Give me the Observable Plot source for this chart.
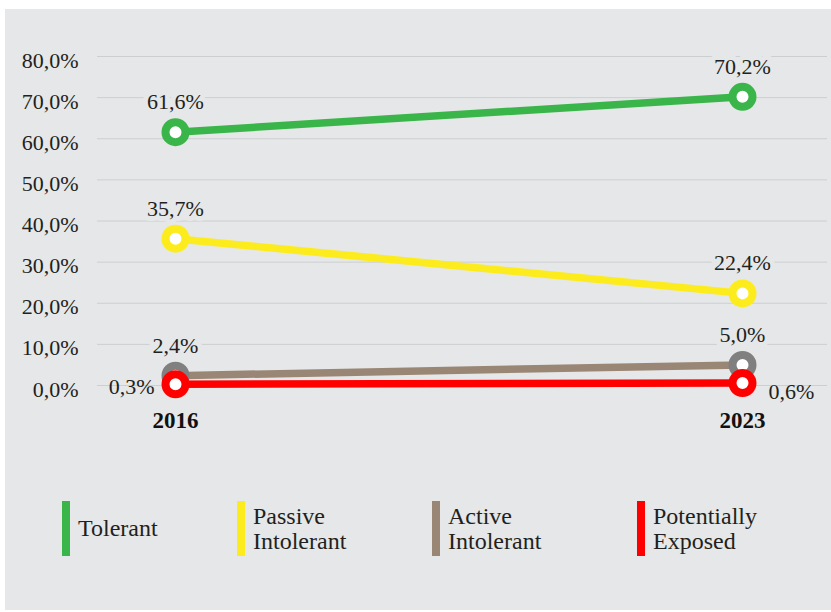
<!DOCTYPE html>
<html>
<head>
<meta charset="utf-8">
<script src="https://cdn.jsdelivr.net/npm/d3@7"></script>
<script src="https://cdn.jsdelivr.net/npm/@observablehq/plot@0.6"></script>
<style>
  html, body { margin: 0; padding: 0; background: #ffffff; }
  #panel { position: absolute; left: 5px; top: 9px; width: 826px; height: 601px; background: #e6e7e8; overflow: hidden; }
  #chart svg { display: block; }
  #legend { position: absolute; left: 0; top: 492px; width: 826px; height: 55px; font-family: "Liberation Serif", serif; font-size: 24px; line-height: 25px; color: #231f20; }
  .item { position: absolute; top: 0; height: 55px; display: flex; align-items: center; }
  .bar { width: 8px; height: 55px; margin-right: 8px; flex: none; }
</style>
</head>
<body>
<div id="panel">
  <div id="chart"></div>
  <div id="legend"></div>
</div>
<script>
// ---- data ----
const years = [2016, 2023];
const seriesNames = ["Tolerant", "Passive Intolerant", "Active Intolerant", "Potentially Exposed"];
const tolerant = [61.6, 70.2];
const passiveIntolerant = [35.7, 22.4];
const activeIntolerant = [2.4, 5.0];
const potentiallyExposed = [0.3, 0.6];
const yTicks = [0, 10, 20, 30, 40, 50, 60, 70, 80];
const legendLines = [["Tolerant"], ["Passive", "Intolerant"], ["Active", "Intolerant"], ["Potentially", "Exposed"]];

// ---- styles ----
const lineColors = ["#39b54a", "#fcec1e", "#998675", "#ff0000"];
const markerColors = ["#39b54a", "#fcec1e", "#808080", "#ff0000"];
const bg = "#e6e7e8";
const fmt = v => v.toFixed(1).replace(".", ",") + "%";

const valuesBySeries = [tolerant, passiveIntolerant, activeIntolerant, potentiallyExposed];
const rows = [];
seriesNames.forEach((s, i) => {
  years.forEach((yr, j) => {
    rows.push({series: s, idx: i, year: yr, value: valuesBySeries[i][j],
               line: lineColors[i], marker: markerColors[i]});
  });
});
const above = rows.filter(d => d.series !== "Potentially Exposed");
const exposedLeft = rows.filter(d => d.series === "Potentially Exposed" && d.year === years[0]);
const exposedRight = rows.filter(d => d.series === "Potentially Exposed" && d.year === years[1]);

const W = 826, H = 436;
const chart = Plot.plot({
  width: W,
  height: H,
  marginLeft: 92,
  marginRight: 4,
  marginTop: 47,
  marginBottom: 60,
  style: {fontFamily: "Liberation Serif, serif", fontSize: "22px", background: "transparent", color: "#231f20"},
  x: {type: "linear", domain: [2016, 2023], range: [170, 737], axis: null},
  y: {domain: [0, 80], label: null},
  color: {type: "identity"},
  marks: [
    Plot.gridY(yTicks, {stroke: "#cdced0", strokeOpacity: 1, strokeWidth: 1}),
    Plot.axisY(yTicks, {label: null, tickSize: 0, tickPadding: 19, tickFormat: fmt, fontSize: 22, dy: 4, fill: "#231f20"}),
    Plot.line(rows, {x: "year", y: "value", z: "series", stroke: "line", strokeWidth: 7.5, strokeLinecap: "butt"}),
    Plot.text(above, {x: "year", y: "value", text: d => fmt(d.value), dy: -30, fontSize: 22, fill: "#231f20", stroke: bg, strokeWidth: 10}),
    Plot.text(exposedLeft, {x: "year", y: "value", text: d => fmt(d.value), dx: -21, dy: 3, textAnchor: "end", fontSize: 22, fill: "#231f20"}),
    Plot.text(exposedRight, {x: "year", y: "value", text: d => fmt(d.value), dx: 26, dy: 9, textAnchor: "start", fontSize: 22, fill: "#231f20"}),
    Plot.dot(rows, {x: "year", y: "value", r: 10, fill: "#ffffff", stroke: "marker", strokeWidth: 8}),
    Plot.text(years, {x: d => d, frameAnchor: "bottom", dy: 42, text: d => String(d), fontSize: 23, fontWeight: "bold", fill: "#111111"})
  ]
});
document.getElementById("chart").appendChild(chart);

// ---- legend ----
const legendLeft = [57, 232, 427, 632];
const legend = document.getElementById("legend");
seriesNames.forEach((s, i) => {
  const item = document.createElement("div");
  item.className = "item";
  item.style.left = legendLeft[i] + "px";
  const bar = document.createElement("div");
  bar.className = "bar";
  bar.style.background = lineColors[i];
  const label = document.createElement("div");
  label.innerHTML = legendLines[i].join("<br>");
  item.appendChild(bar);
  item.appendChild(label);
  legend.appendChild(item);
});
</script>
</body>
</html>
